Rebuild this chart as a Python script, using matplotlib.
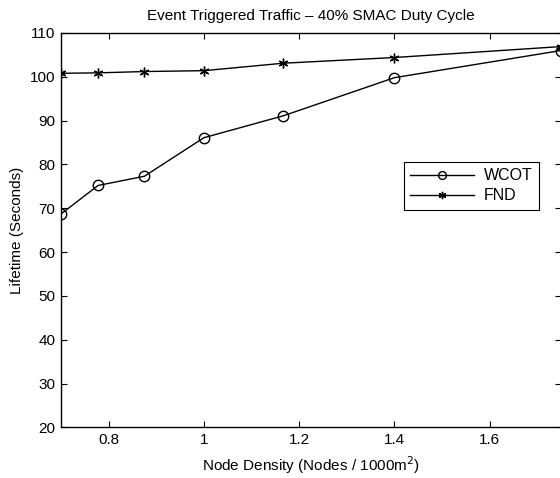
import matplotlib
matplotlib.use("Agg")
import matplotlib.pyplot as plt

plt.rcParams.update({
    "font.family": "Liberation Sans",
    "font.size": 11,
    "xtick.direction": "in",
    "ytick.direction": "in",
    "xtick.top": True,
    "ytick.right": True,
})

# node density (nodes / 1000 m^2)
density = [0.7, 0.7778, 0.875, 1.0, 1.1667, 1.4, 1.75]
wcot = [68.7, 75.2, 77.3, 86.1, 91.1, 99.8, 106.0]
fnd = [100.8, 100.9, 101.2, 101.4, 103.1, 104.4, 106.9]

xticks = [0.8, 1.0, 1.2, 1.4, 1.6]
xticklabels = ["0.8", "1", "1.2", "1.4", "1.6"]
yticks = list(range(20, 111, 10))

fig = plt.figure(figsize=(5.6, 4.78), dpi=100)
ax = fig.add_axes([0.109, 0.106, 0.893, 0.825])

asterisk = (6, 2, 0)
ax.plot(density, wcot, color="black", lw=1.0, marker="o", ms=7.5,
        mfc="none", mec="black", mew=1.0, label="WCOT")
ax.plot(density, fnd, color="black", lw=1.0, marker=asterisk, ms=7,
        mec="black", mew=1.0, label="FND")

ax.set_xlim(0.7, 1.75)
ax.set_ylim(20, 110)
ax.set_xticks(xticks)
ax.set_xticklabels(xticklabels)
ax.set_yticks(yticks)
ax.tick_params(length=4, width=0.8, pad=4, labelsize=11)
for s in ax.spines.values():
    s.set_linewidth(1.0)

ax.set_title("Event Triggered Traffic \u2013 40% SMAC Duty Cycle", fontsize=11, pad=9)
ax.set_xlabel("Node Density (Nodes / 1000m$^2$)", fontsize=11, labelpad=5)
ax.set_ylabel("Lifetime (Seconds)", fontsize=11, labelpad=4)

leg = ax.legend(loc="upper left", bbox_to_anchor=(0.686, 0.673), borderaxespad=0,
                fancybox=False, edgecolor="black", framealpha=1, fontsize=11.5,
                handlelength=4.0, markerscale=0.75, borderpad=0.4,
                labelspacing=0.3, handletextpad=0.6)
leg.get_frame().set_linewidth(0.8)

fig.savefig("out.png", dpi=100)
